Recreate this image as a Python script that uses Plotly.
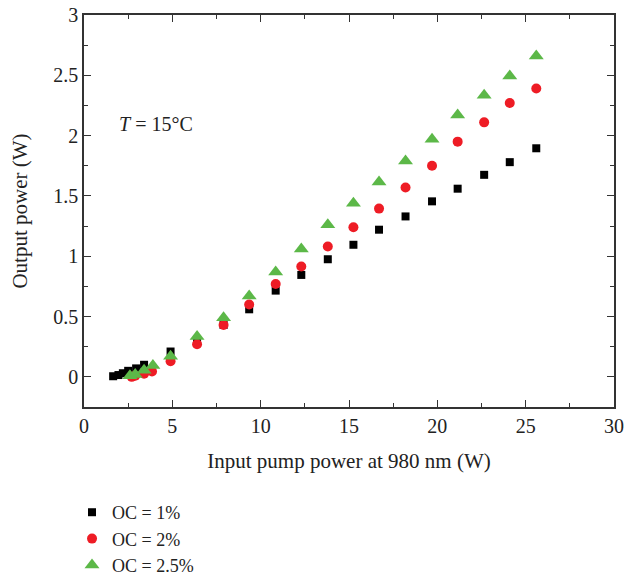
import plotly.graph_objects as go

# OC = 1%
x_oc1 = [1.65, 1.95, 2.2, 2.5, 2.95, 3.4, 4.9, 6.4, 7.9, 9.35, 10.85, 12.3, 13.8, 15.25, 16.7, 18.2, 19.7, 21.15, 22.65, 24.1, 25.6]
y_oc1 = [0.005, 0.015, 0.03, 0.05, 0.07, 0.10, 0.21, 0.30, 0.43, 0.56, 0.715, 0.845, 0.975, 1.095, 1.22, 1.33, 1.455, 1.56, 1.675, 1.78, 1.895]
# OC = 2%
x_oc2 = [2.7, 2.9, 3.4, 3.85, 4.9, 6.4, 7.9, 9.35, 10.85, 12.3, 13.8, 15.25, 16.7, 18.2, 19.7, 21.15, 22.65, 24.1, 25.6]
y_oc2 = [0.0, 0.01, 0.025, 0.045, 0.13, 0.27, 0.43, 0.60, 0.77, 0.915, 1.08, 1.24, 1.395, 1.57, 1.75, 1.95, 2.11, 2.27, 2.39]
# OC = 2.5%
x_oc25 = [2.6, 2.9, 3.4, 3.9, 4.9, 6.4, 7.9, 9.35, 10.85, 12.3, 13.8, 15.25, 16.7, 18.2, 19.7, 21.15, 22.65, 24.1, 25.6]
y_oc25 = [0.01, 0.02, 0.055, 0.095, 0.17, 0.335, 0.49, 0.67, 0.87, 1.06, 1.26, 1.44, 1.615, 1.79, 1.97, 2.17, 2.335, 2.495, 2.66]

FONT = "Liberation Serif"

fig = go.Figure()
fig.add_trace(go.Scatter(x=x_oc1, y=y_oc1, mode="markers", name="OC = 1%",
                         marker=dict(symbol="square", size=8, color="#000000")))
fig.add_trace(go.Scatter(x=x_oc2, y=y_oc2, mode="markers", name="OC = 2%",
                         marker=dict(symbol="circle", size=10, color="#ee1c25")))
fig.add_trace(go.Scatter(x=x_oc25, y=y_oc25, mode="markers", name="OC = 2.5%",
                         marker=dict(symbol="triangle-up", size=13, color="#5cb848")))

axis_common = dict(
    showline=True, linecolor="#333333", linewidth=1.5, mirror="allticks",
    ticks="inside", ticklen=7, tickcolor="#333333", tickwidth=1.2,
    showgrid=False, zeroline=False, automargin=False,
    tickfont=dict(family=FONT, size=20, color="#222222"),
)

fig.update_xaxes(range=[0, 30], dtick=5, tick0=0,
                 minor=dict(dtick=2.5, ticks="inside", ticklen=4, tickcolor="#333333"),
                 title=dict(text="Input pump power at 980 nm (W)",
                            font=dict(family=FONT, size=21, color="#222222"), standoff=18),
                 **axis_common)
fig.update_yaxes(range=[-0.25, 3], dtick=0.5, tick0=0,
                 minor=dict(dtick=0.25, ticks="inside", ticklen=4, tickcolor="#333333"),
                 title=dict(text="Output power (W)",
                            font=dict(family=FONT, size=21, color="#222222"), standoff=20),
                 **axis_common)

fig.add_annotation(x=1.85, y=2.1, xref="x", yref="y", xanchor="left", yanchor="middle",
                   text="<i>T</i> = 15°C", showarrow=False,
                   font=dict(family=FONT, size=20, color="#222222"))

fig.update_layout(
    width=624, height=580,
    margin=dict(l=84, r=10, t=15, b=173, autoexpand=False),
    plot_bgcolor="white", paper_bgcolor="white",
    font=dict(family=FONT, size=20, color="#222222"),
    showlegend=True,
    legend=dict(x=-0.0226, xanchor="left", y=-0.222, yanchor="top",
                font=dict(family=FONT, size=18, color="#222222"),
                bgcolor="rgba(0,0,0,0)", tracegroupgap=0),
)

fig.write_html("out.html")
